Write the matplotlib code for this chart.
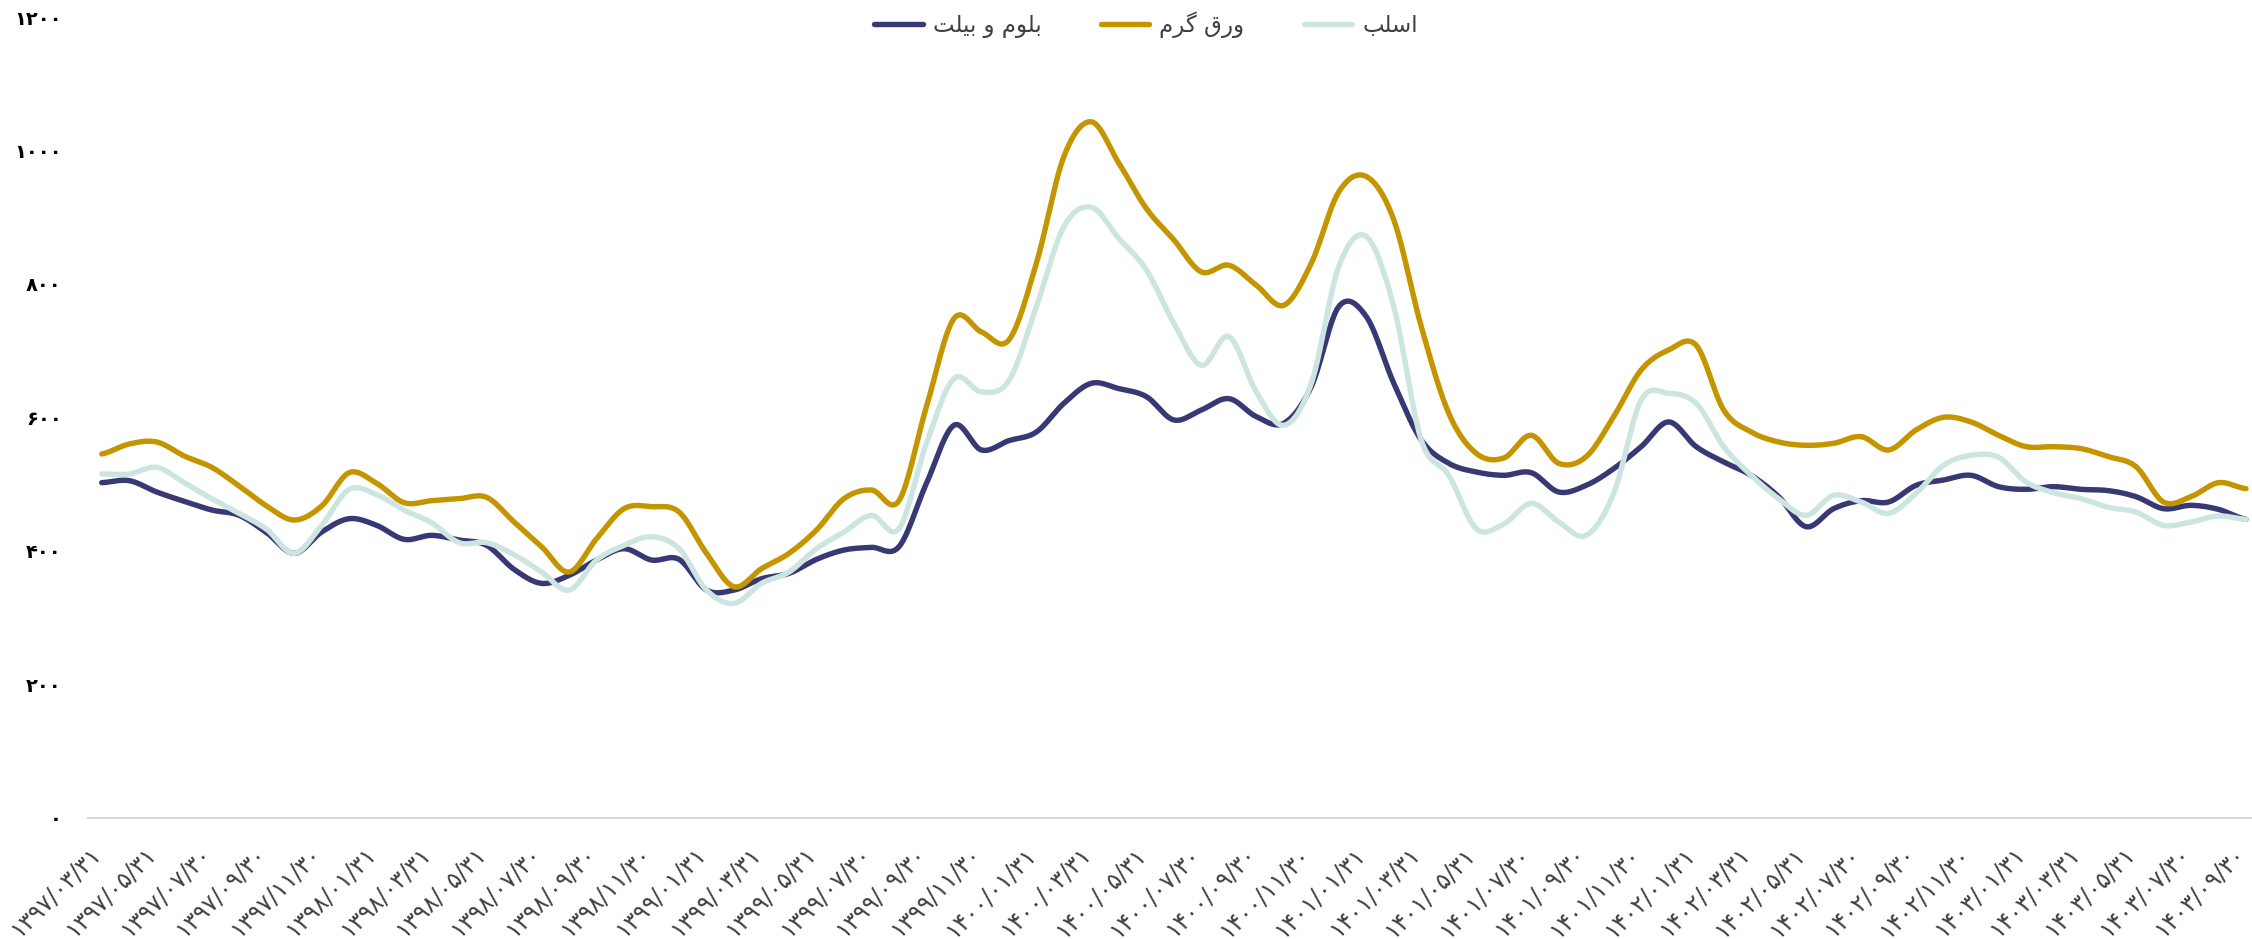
import numpy as np
import matplotlib
matplotlib.use("Agg")
import matplotlib.pyplot as plt
from matplotlib.transforms import ScaledTranslation

# Data (monthly, 1397/03 .. 1403/09)
tick_dates = [
    "1397/03/31", "1397/05/31", "1397/07/30", "1397/09/30", "1397/11/30",
    "1398/01/31", "1398/03/31", "1398/05/31", "1398/07/30", "1398/09/30", "1398/11/30",
    "1399/01/31", "1399/03/31", "1399/05/31", "1399/07/30", "1399/09/30", "1399/11/30",
    "1400/01/31", "1400/03/31", "1400/05/31", "1400/07/30", "1400/09/30", "1400/11/30",
    "1401/01/31", "1401/03/31", "1401/05/31", "1401/07/30", "1401/09/30", "1401/11/30",
    "1402/01/31", "1402/03/31", "1402/05/31", "1402/07/30", "1402/09/30", "1402/11/30",
    "1403/01/31", "1403/03/31", "1403/05/31", "1403/07/30", "1403/09/30",
]

billet = [502, 505, 488, 474, 461, 453, 427, 396, 428, 448, 438, 417, 423, 416, 408, 372,
          351, 363, 386, 403, 386, 387, 341, 341, 358, 366, 387, 401, 405, 406, 501, 588,
          551, 565, 578, 621, 651, 643, 631, 596, 611, 628, 601, 591, 646, 766, 751, 651,
          566, 531, 518, 513, 517, 488, 498, 523, 556, 593, 556, 533, 513, 481, 436, 463,
          475, 473, 498, 506, 513, 496, 492, 496, 492, 490, 481, 463, 468, 462, 447]

hot_sheet = [545, 560, 563, 542, 525, 497, 467, 446, 467, 517, 501, 472, 475, 478, 480, 443,
             406, 368, 418, 463, 466, 458, 396, 346, 373, 396, 431, 478, 491, 475, 616, 748,
             728, 716, 831, 991, 1043, 981, 913, 866, 818, 828, 798, 768, 831, 938, 961, 896,
             736, 606, 546, 539, 573, 531, 541, 601, 671, 701, 708, 611, 578, 563, 558, 561,
             571, 551, 581, 600, 593, 573, 556, 556, 553, 541, 526, 473, 481, 502, 493]

slab = [515, 515, 525, 502, 478, 456, 432, 396, 438, 492, 484, 461, 442, 412, 412, 394,
        368, 341, 386, 408, 421, 403, 341, 321, 351, 368, 403, 428, 453, 433, 561, 658,
        638, 655, 766, 886, 915, 868, 821, 741, 678, 721, 638, 588, 651, 826, 871, 766,
        566, 513, 433, 440, 471, 443, 423, 486, 626, 636, 621, 556, 513, 478, 453, 483,
        473, 456, 486, 528, 543, 540, 503, 487, 478, 465, 458, 438, 443, 452, 447]

series_names = ["بلوم و بیلت", "ورق گرم", "اسلب"]
series_colors = ["#383874", "#C59500", "#CDE5E1"]
y_ticks = [0, 200, 400, 600, 800, 1000, 1200]

FA_DIGITS = str.maketrans("0123456789", "۰۱۲۳۴۵۶۷۸۹")

# Arabic letter forms: isolated, final, initial, medial
FORMS = {
    "ا": ("\uFE8D", "\uFE8E", None, None),
    "ب": ("\uFE8F", "\uFE90", "\uFE91", "\uFE92"),
    "ت": ("\uFE95", "\uFE96", "\uFE97", "\uFE98"),
    "ر": ("\uFEAD", "\uFEAE", None, None),
    "س": ("\uFEB1", "\uFEB2", "\uFEB3", "\uFEB4"),
    "ق": ("\uFED5", "\uFED6", "\uFED7", "\uFED8"),
    "ل": ("\uFEDD", "\uFEDE", "\uFEDF", "\uFEE0"),
    "م": ("\uFEE1", "\uFEE2", "\uFEE3", "\uFEE4"),
    "و": ("\uFEED", "\uFEEE", None, None),
    "ی": ("\uFBFC", "\uFBFD", "\uFBFE", "\uFBFF"),
    "گ": ("\uFB92", "\uFB93", "\uFB94", "\uFB95"),
}


# matplotlib has no shaping/bidi, so join letters and reverse by hand
def shape_fa(text):
    out = []
    for i, ch in enumerate(text):
        if ch not in FORMS:
            out.append(ch)
            continue
        prev = text[i - 1] if i > 0 else ""
        nxt = text[i + 1] if i + 1 < len(text) else ""
        join_prev = prev in FORMS and FORMS[prev][2] is not None
        join_next = nxt in FORMS and FORMS[ch][2] is not None
        iso, fin, ini, med = FORMS[ch]
        if join_prev and join_next:
            out.append(med)
        elif join_prev:
            out.append(fin)
        elif join_next:
            out.append(ini)
        else:
            out.append(iso)
    return "".join(reversed(out))


# Excel-like smoothed line (Catmull-Rom as cubic bezier)
def smooth(values, n=24):
    y = np.asarray(values, dtype=float)
    p = np.concatenate([[y[0]], y, [y[-1]]])
    t = np.linspace(0, 1, n, endpoint=False)
    xs, ys = [], []
    for i in range(len(y) - 1):
        p0, p1, p2, p3 = p[i], p[i + 1], p[i + 2], p[i + 3]
        c1 = p1 + (p2 - p0) / 6
        c2 = p2 - (p3 - p1) / 6
        seg = (1 - t) ** 3 * p1 + 3 * (1 - t) ** 2 * t * c1 + 3 * (1 - t) * t ** 2 * c2 + t ** 3 * p2
        xs.append(i + t)
        ys.append(seg)
    xs.append([len(y) - 1])
    ys.append([y[-1]])
    return np.concatenate(xs), np.concatenate(ys)


plt.rcParams["font.family"] = ["DejaVu Sans"]

W, H = 2252, 939
fig = plt.figure(figsize=(W / 100, H / 100), dpi=100)
ax = fig.add_axes([88 / W, (H - 817.5) / H, 1 - 88 / W, 800.4 / H])

for vals, name, color in zip([billet, hot_sheet, slab], series_names, series_colors):
    sx, sy = smooth(vals)
    ax.plot(sx, sy, color=color, lw=3.9, solid_capstyle="round", label=shape_fa(name))

ax.set_xlim(-0.5, -0.5 + (W - 88) / 27.49)
ax.set_ylim(0, 1200)

ax.set_yticks(y_ticks)
ax.set_yticklabels([str(v).translate(FA_DIGITS) for v in y_ticks],
                   fontsize=14, fontweight="bold", color="black")
ax.set_xticks(range(0, len(billet), 2))
ax.set_xticklabels([d.translate(FA_DIGITS) for d in tick_dates],
                   rotation=45, ha="right", va="top", rotation_mode="anchor",
                   fontsize=17, color="#404040")
ax.tick_params(axis="y", length=0, pad=19)
ax.tick_params(axis="x", length=0, pad=17)

# nudge date labels left so their right ink edge sits on the tick
shift = ScaledTranslation(-13 / 100, 0, fig.dpi_scale_trans)
for lbl in ax.get_xticklabels():
    lbl.set_transform(lbl.get_transform() + shift)

for side in ["top", "right", "left"]:
    ax.spines[side].set_visible(False)
ax.spines["bottom"].set_color("#D9D9D9")
ax.spines["bottom"].set_linewidth(1.5)

fig.legend(loc="center", bbox_to_anchor=(0.509, 0.974), ncol=3, frameon=False,
           fontsize=16.5, handlelength=2.1, handletextpad=0.45, columnspacing=2.6,
           labelcolor="#404040")

fig.savefig("out.png", dpi=100)
